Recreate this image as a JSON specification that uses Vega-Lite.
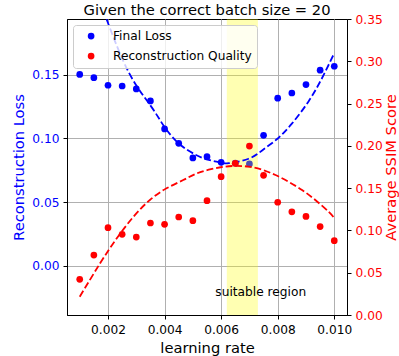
{
  "$schema": "https://vega.github.io/schema/vega-lite/v6.json",
  "autosize": {"type": "none"},
  "width": 280,
  "height": 296,
  "padding": {"left": 67, "top": 19, "right": 52, "bottom": 41},
  "title": {"text": "Given the correct batch size = 20", "fontSize": 14.7, "fontWeight": "normal", "font": "DejaVu Sans", "color": "black", "anchor": "middle", "offset": 0, "baseline": "alphabetic", "dy": 17},
  "datasets": {
    "pts": [
      {"lr": 0.001, "loss": 0.1502, "ssim": 0.0422},
      {"lr": 0.0015, "loss": 0.1476, "ssim": 0.0709},
      {"lr": 0.002, "loss": 0.1417, "ssim": 0.1032},
      {"lr": 0.0025, "loss": 0.1411, "ssim": 0.0954},
      {"lr": 0.003, "loss": 0.1388, "ssim": 0.0922},
      {"lr": 0.0035, "loss": 0.1294, "ssim": 0.1088},
      {"lr": 0.004, "loss": 0.1074, "ssim": 0.1072},
      {"lr": 0.0045, "loss": 0.0961, "ssim": 0.1159},
      {"lr": 0.005, "loss": 0.0846, "ssim": 0.1115},
      {"lr": 0.0055, "loss": 0.0856, "ssim": 0.1352},
      {"lr": 0.006, "loss": 0.0812, "ssim": 0.1636},
      {"lr": 0.0065, "loss": 0.0805, "ssim": 0.1794},
      {"lr": 0.007, "loss": 0.0799, "ssim": 0.1998},
      {"lr": 0.0075, "loss": 0.1024, "ssim": 0.1652},
      {"lr": 0.008, "loss": 0.1315, "ssim": 0.1333},
      {"lr": 0.0085, "loss": 0.1356, "ssim": 0.122},
      {"lr": 0.009, "loss": 0.1422, "ssim": 0.1166},
      {"lr": 0.0095, "loss": 0.1535, "ssim": 0.1046},
      {"lr": 0.01, "loss": 0.1566, "ssim": 0.0879}
    ],
    "lossfit": [
      {"lr": 0.00195, "v": 0.1935},
      {"lr": 0.00274, "v": 0.1515},
      {"lr": 0.00351, "v": 0.1255},
      {"lr": 0.00398, "v": 0.1095},
      {"lr": 0.0045, "v": 0.096},
      {"lr": 0.00509, "v": 0.0872},
      {"lr": 0.00556, "v": 0.0831},
      {"lr": 0.00598, "v": 0.081},
      {"lr": 0.00627, "v": 0.0805},
      {"lr": 0.00697, "v": 0.084},
      {"lr": 0.00745, "v": 0.0905},
      {"lr": 0.00798, "v": 0.0995},
      {"lr": 0.0085, "v": 0.1115},
      {"lr": 0.00909, "v": 0.129},
      {"lr": 0.00956, "v": 0.147},
      {"lr": 0.00997, "v": 0.1655}
    ],
    "ssimfit": [
      {"lr": 0.001, "v": 0.0216},
      {"lr": 0.00172, "v": 0.0611},
      {"lr": 0.00231, "v": 0.0907},
      {"lr": 0.0029, "v": 0.1162},
      {"lr": 0.00348, "v": 0.136},
      {"lr": 0.00407, "v": 0.1498},
      {"lr": 0.00466, "v": 0.1596},
      {"lr": 0.00509, "v": 0.1667},
      {"lr": 0.00556, "v": 0.1718},
      {"lr": 0.00604, "v": 0.175},
      {"lr": 0.0065, "v": 0.1763},
      {"lr": 0.00697, "v": 0.1754},
      {"lr": 0.00745, "v": 0.1718},
      {"lr": 0.00792, "v": 0.1655},
      {"lr": 0.00838, "v": 0.1576},
      {"lr": 0.00886, "v": 0.1478},
      {"lr": 0.00933, "v": 0.136},
      {"lr": 0.0098, "v": 0.1221},
      {"lr": 0.01, "v": 0.1145}
    ],
    "band": [{"start": 0.0062, "end": 0.0073}],
    "label": [{"lr": 0.0074, "v": -0.0205, "text": "suitable region"}]
  },
  "layer": [
    {
      "layer": [
        {
          "data": {"name": "pts"},
          "mark": {"type": "point", "filled": true, "opacity": 1, "size": 45, "shape": "circle"},
          "encoding": {
            "x": {"field": "lr", "type": "quantitative", "scale": {"domain": [0.00055, 0.01045], "nice": false, "zero": false},
                  "axis": {"values": [0.002, 0.004, 0.006, 0.008, 0.01], "format": ".3f", "title": "learning rate", "grid": true}},
            "y": {"field": "loss", "type": "quantitative", "scale": {"domain": [-0.0387, 0.1937], "nice": false, "zero": false},
                  "axis": {"orient": "left", "values": [0, 0.05, 0.1, 0.15], "format": ".2f", "title": "Reconstruction Loss", "labelColor": "blue", "titleColor": "blue", "grid": true}},
            "color": {"datum": "Final Loss", "type": "nominal",
                      "scale": {"domain": ["Final Loss", "Reconstruction Quality"], "range": ["blue", "red"]},
                      "legend": {"title": null, "orient": "none", "legendX": 6, "legendY": 6}}
          }
        },
        {
          "data": {"name": "band"},
          "mark": {"type": "rect", "color": "yellow", "opacity": 0.3},
          "encoding": {
            "x": {"field": "start", "type": "quantitative"},
            "x2": {"field": "end"}
          }
        },
        {
          "data": {"name": "lossfit"},
          "mark": {"type": "line", "color": "blue", "strokeDash": [6.8, 2.9], "strokeWidth": 1.8, "interpolate": "natural", "clip": true},
          "encoding": {
            "x": {"field": "lr", "type": "quantitative"},
            "y": {"field": "v", "type": "quantitative"}
          }
        },
        {
          "data": {"name": "label"},
          "mark": {"type": "text", "fontSize": 12.2, "color": "black", "align": "center", "baseline": "middle", "font": "DejaVu Sans"},
          "encoding": {
            "x": {"field": "lr", "type": "quantitative"},
            "y": {"field": "v", "type": "quantitative"},
            "text": {"field": "text"}
          }
        }
      ]
    },
    {
      "layer": [
        {
          "data": {"name": "pts"},
          "mark": {"type": "point", "filled": true, "opacity": 1, "size": 45, "shape": "circle"},
          "encoding": {
            "x": {"field": "lr", "type": "quantitative"},
            "y": {"field": "ssim", "type": "quantitative", "scale": {"domain": [0, 0.35], "nice": false, "zero": false},
                  "axis": {"orient": "right", "values": [0, 0.05, 0.1, 0.15, 0.2, 0.25, 0.3, 0.35], "format": ".2f", "title": "Average SSIM Score", "labelColor": "red", "titleColor": "red", "grid": false, "titleAngle": 270, "titleBaseline": "top", "titlePadding": 1}},
            "color": {"datum": "Reconstruction Quality", "type": "nominal"}
          }
        },
        {
          "data": {"name": "ssimfit"},
          "mark": {"type": "line", "color": "red", "strokeDash": [6.8, 2.9], "strokeWidth": 1.8, "interpolate": "natural", "clip": true},
          "encoding": {
            "x": {"field": "lr", "type": "quantitative"},
            "y": {"field": "v", "type": "quantitative"}
          }
        }
      ]
    }
  ],
  "resolve": {"scale": {"y": "independent"}},
  "config": {
    "font": "DejaVu Sans",
    "view": {"stroke": "black", "strokeWidth": 1},
    "axis": {
      "domainColor": "black", "domainWidth": 1, "tickColor": "black", "tickSize": 4, "tickWidth": 1,
      "labelFontSize": 12.2, "labelFont": "DejaVu Sans", "labelColor": "black", "labelPadding": 4,
      "titleFontSize": 14.7, "titleFont": "DejaVu Sans", "titleFontWeight": "normal", "titleColor": "black", "titlePadding": 5,
      "gridColor": "#b0b0b0", "gridWidth": 1, "gridOpacity": 1, "labelFlush": false, "labelOverlap": false
    },
    "legend": {
      "fillColor": "rgba(255,255,255,0.8)", "strokeColor": "#cccccc", "cornerRadius": 3, "padding": 5,
      "symbolType": "circle", "symbolSize": 45, "symbolStrokeWidth": 0, "symbolOpacity": 1,
      "labelFontSize": 12.2, "labelFont": "DejaVu Sans", "labelColor": "black", "labelOffset": 15.8, "symbolOffset": 7, "rowPadding": 7
    }
  }
}
